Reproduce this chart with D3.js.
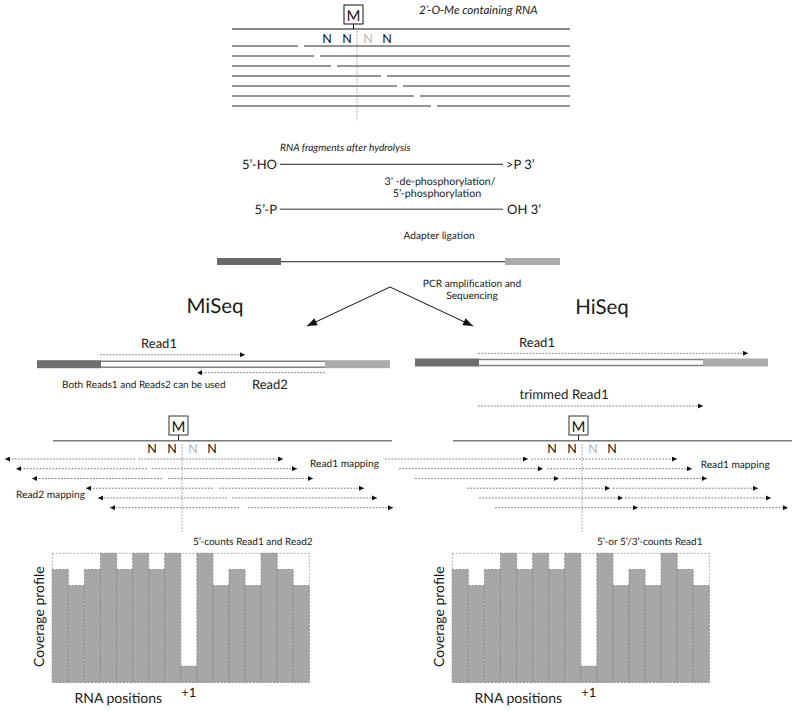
<!DOCTYPE html>
<html>
<head>
<meta charset="utf-8">
<script src="https://cdn.jsdelivr.net/npm/d3@7"></script>
<style>
  body { margin: 0; background: #fff; }
  svg { display: block; font-family: Lato, "Open Sans", sans-serif; text-rendering: geometricPrecision; }
</style>
</head>
<body>
<svg id="chart" width="796" height="711"></svg>
<script>
// ---------------- DATA ----------------
// Top RNA: nucleotide-ish positions along the RNA (0 = 5' end of drawn line)
const rnaLength = 338;
const fragmentGaps = [66, 82, 99, 149, 165, 182, 199];      // hydrolysis break points (one per fragment row)
const siteLabels = ["N", "N", "N", "N"];
const sitePositions = [95, 115, 136, 155];
const siteIsCut = [false, false, true, false];
const methylPosition = 121.5;
const cleavagePosition = 125;

// Read mapping (panel coordinates)
const miRead2From = [135, 147, 162, 213, 227, 239];
const miRead2To   = [5, 16, 32, 86, 98, 110];
const miRead1From = [138, 152, 168, 219, 232, 248];
const miRead1To   = [283, 297, 313, 364, 377, 393];
const hiReadAFrom = [-15, -1, 15, 67, 79, 95];
const hiReadATo   = [128, 143, 159, 210, 223, 238];
const hiReadBFrom = [131, 147, 162, 213, 225, 241];
const hiReadBTo   = [277, 292, 307, 358, 371, 388];

// Coverage profile (16 RNA positions, +1 at index 8)
const rnaPositions = d3.range(16);
const coverage = [7, 6, 7, 8, 7, 8, 7, 8, 1, 8, 6, 7, 6, 8, 7, 6];
const coverageMax = 8;

// ---------------- DRAW ----------------
const svg = d3.select("#chart");
svg.append("rect").attr("width", 796).attr("height", 711).attr("fill", "#fff");

const defs = svg.append("defs");
defs.append("marker").attr("id", "dhead")
  .attr("viewBox", "0 0 6 6").attr("refX", 6).attr("refY", 3)
  .attr("markerWidth", 5).attr("markerHeight", 5).attr("markerUnits", "userSpaceOnUse")
  .attr("orient", "auto-start-reverse")
  .append("path").attr("d", "M0,0L6,3L0,6Z").attr("fill", "#111");
defs.append("marker").attr("id", "bighead")
  .attr("viewBox", "0 0 10 8").attr("refX", 10).attr("refY", 4)
  .attr("markerWidth", 11).attr("markerHeight", 8).attr("markerUnits", "userSpaceOnUse")
  .attr("orient", "auto")
  .append("path").attr("d", "M0,0L10,4L0,8Z").attr("fill", "#111");

function text(g, x, y, s, opts = {}) {
  const t = g.append("text").attr("x", x).attr("y", y).text(s)
    .attr("font-size", opts.size || 10)
    .attr("fill", opts.fill || "#1a1a1a")
    .attr("text-anchor", opts.anchor || "start");
  if (opts.italic) t.attr("font-style", "italic");
  if (opts.family) t.attr("font-family", opts.family);
  return t;
}
function dotted(g, x1, y1, x2, y2, head = true) {
  const l = g.append("line").attr("x1", x1).attr("y1", y1).attr("x2", x2).attr("y2", y2)
    .attr("stroke", "#555").attr("stroke-width", 0.75).attr("stroke-dasharray", "1.8,1.4");
  if (head) l.attr("marker-end", "url(#dhead)");
  return l;
}

// ---- Top: 2'-O-Me containing RNA ----
const xTop = d3.scaleLinear().domain([0, rnaLength]).range([232, 570]);
const gTop = svg.append("g");
gTop.append("line").attr("x1", xTop(0)).attr("x2", xTop(rnaLength)).attr("y1", 29).attr("y2", 29)
  .attr("stroke", "#111").attr("stroke-width", 1.2);
gTop.append("line").attr("x1", xTop(methylPosition)).attr("x2", xTop(methylPosition))
  .attr("y1", 24).attr("y2", 29).attr("stroke", "#111");
gTop.append("rect").attr("x", xTop(methylPosition) - 9.5).attr("y", 5).attr("width", 19).attr("height", 19)
  .attr("fill", "#fff").attr("stroke", "#111");
text(gTop, xTop(methylPosition), 20.5, "M", { size: 15, anchor: "middle" });
sitePositions.forEach((p, i) => text(gTop, Math.round(xTop(p)), 43, siteLabels[i],
  { size: 12.5, anchor: "middle", fill: siteIsCut[i] ? "#b5b5b5" : "#111" }));
text(gTop, 419, 14, "2’-O-Me containing RNA", { size: 11.6, italic: true });
const yFrag = d3.scaleLinear().domain([0, 6]).range([46, 106]);
fragmentGaps.forEach((gp, i) => {
  const y = yFrag(i);
  gTop.append("line").attr("x1", xTop(0)).attr("x2", xTop(gp)).attr("y1", y).attr("y2", y)
    .attr("stroke", "#2a2a2a").attr("stroke-width", 1);
  gTop.append("line").attr("x1", xTop(gp + 6)).attr("x2", xTop(rnaLength)).attr("y1", y).attr("y2", y)
    .attr("stroke", "#2a2a2a").attr("stroke-width", 1);
});
dotted(gTop, xTop(cleavagePosition), 31, xTop(cleavagePosition), 121, false).attr("stroke", "#888");

// ---- Fragments ----
const mid = svg.append("g");
text(mid, 280, 151, "RNA fragments after hydrolysis", { size: 10.2, italic: true });
text(mid, 277, 168.5, "5’-HO", { size: 13, anchor: "end" });
mid.append("line").attr("x1", 280).attr("x2", 503).attr("y1", 164.3).attr("y2", 164.3).attr("stroke", "#222");
text(mid, 506, 168.5, ">P 3’", { size: 13 });
text(mid, 440, 185, "3’ -de-phosphorylation/", { size: 10.6, anchor: "middle" });
text(mid, 437, 196.5, "5’-phosphorylation", { size: 10.7, anchor: "middle" });
text(mid, 277, 213.5, "5’-P", { size: 13, anchor: "end" });
mid.append("line").attr("x1", 280).attr("x2", 503).attr("y1", 209.3).attr("y2", 209.3)
  .attr("stroke", "#777").attr("stroke-width", 1.4);
text(mid, 507, 213.5, "OH 3’", { size: 13 });
text(mid, 439, 239, "Adapter ligation", { size: 10.2, anchor: "middle" });
mid.append("rect").attr("x", 217).attr("y", 258).attr("width", 64).attr("height", 7).attr("fill", "#6a6a6a");
mid.append("line").attr("x1", 281).attr("x2", 505).attr("y1", 261.7).attr("y2", 261.7).attr("stroke", "#222");
mid.append("rect").attr("x", 505).attr("y", 258).attr("width", 55).attr("height", 7).attr("fill", "#ababab");

// PCR arrows
mid.append("line").attr("x1", 390).attr("y1", 287).attr("x2", 307).attr("y2", 326)
  .attr("stroke", "#111").attr("stroke-width", 1).attr("marker-end", "url(#bighead)");
mid.append("line").attr("x1", 390).attr("y1", 287).attr("x2", 473).attr("y2", 326)
  .attr("stroke", "#111").attr("stroke-width", 1).attr("marker-end", "url(#bighead)");
text(mid, 472, 287, "PCR amplification and", { size: 10.2, anchor: "middle" });
text(mid, 472, 299, "Sequencing", { size: 10.2, anchor: "middle" });
text(mid, 215, 313, "MiSeq", { size: 20.5, anchor: "middle" });
text(mid, 602, 314, "HiSeq", { size: 20.5, anchor: "middle" });

// read structures
function readBar(g, x0, x1, x2, x3, yc) {
  g.append("rect").attr("x", x0).attr("y", yc - 4).attr("width", x1 - x0).attr("height", 8).attr("fill", "#6e6e6e");
  g.append("line").attr("x1", x1).attr("x2", x2).attr("y1", yc - 3).attr("y2", yc - 3).attr("stroke", "#808080").attr("stroke-width", 1.6);
  g.append("line").attr("x1", x1).attr("x2", x2).attr("y1", yc + 3).attr("y2", yc + 3).attr("stroke", "#808080").attr("stroke-width", 1.6);
  g.append("rect").attr("x", x2).attr("y", yc - 4).attr("width", x3 - x2).attr("height", 8).attr("fill", "#ababab");
}
readBar(mid, 37, 101, 325, 390, 364.2);
readBar(mid, 415, 479, 703, 768, 362.5);
text(mid, 159, 348, "Read1", { size: 13, anchor: "middle" });
dotted(mid, 100, 354.7, 245, 354.7);
dotted(mid, 325, 372.7, 197, 372.7);
text(mid, 62, 388, "Both Reads1 and Reads2 can be used", { size: 10 });
text(mid, 252, 389, "Read2", { size: 13 });
text(mid, 537, 347, "Read1", { size: 13, anchor: "middle" });
dotted(mid, 478, 353.3, 748, 353.3);
text(mid, 564, 399, "trimmed Read1", { size: 13.3, anchor: "middle" });
dotted(mid, 478, 406, 703, 406);

// ---- Panels (mapping + coverage) ----
const xP = d3.scaleLinear().domain([0, 400]).range([0, 400]);
const xSite = d3.scaleLinear().domain([0, rnaLength]).range([57, 57 + rnaLength]);
const yRow = d3.scaleLinear().domain([0, 5]).range([459, 507.7]);
const xBar = d3.scaleBand().domain(rnaPositions).range([52.3, 309.3]).padding(0);
const yBar = d3.scaleLinear().domain([0, coverageMax]).range([682.3, 553.3]);

function panel(dx, title, reads, mappingLabels, countLabel) {
  const g = svg.append("g").attr("transform", `translate(${dx},0)`);
  // RNA line
  g.append("line").attr("x1", xSite(-4)).attr("x2", xSite(335)).attr("y1", 440.7).attr("y2", 440.7)
    .attr("stroke", "#7a7a7a").attr("stroke-width", 1.6);
  g.append("line").attr("x1", xSite(methylPosition)).attr("x2", xSite(methylPosition))
    .attr("y1", 435).attr("y2", 440).attr("stroke", "#222");
  g.append("rect").attr("x", xSite(methylPosition) - 9.5).attr("y", 416).attr("width", 19).attr("height", 19)
    .attr("fill", "#fff").attr("stroke", "#333");
  text(g, xSite(methylPosition), 431.5, "M", { size: 15, anchor: "middle" });
  sitePositions.forEach((p, i) => text(g, Math.round(xSite(p)), 453, siteLabels[i],
    { size: 12.5, anchor: "middle", fill: siteIsCut[i] ? "#b5b5b5" : "#111" }));
  dotted(g, xSite(cleavagePosition), 444, xSite(cleavagePosition), 532, false).attr("stroke", "#888");
  // reads
  reads.forEach(r => r.from.forEach((f, i) => dotted(g, xP(f), yRow(i), xP(r.to[i]), yRow(i))));
  mappingLabels.forEach(m => text(g, m.x, m.y, m.s, { size: 10.2 }));
  // coverage
  text(g, countLabel.x, 545, countLabel.s, { size: 10 });
  g.append("rect").attr("x", xBar.range()[0]).attr("y", yBar(coverageMax))
    .attr("width", xBar.range()[1] - xBar.range()[0]).attr("height", yBar(0) - yBar(coverageMax))
    .attr("fill", "none").attr("stroke", "#999").attr("stroke-width", 0.8).attr("stroke-dasharray", "2,1.5");
  g.selectAll("rect.bar").data(coverage).join("rect").attr("class", "bar")
    .attr("x", (d, i) => xBar(i)).attr("width", xBar.bandwidth())
    .attr("y", d => yBar(d)).attr("height", d => yBar(0) - yBar(d))
    .attr("fill", "#a7a7a7").attr("stroke", "#7d7d7d").attr("stroke-width", 0.8).attr("stroke-dasharray", "2,1.5");
  text(g, 0, 0, "Coverage profile", { size: 14, anchor: "middle" })
    .attr("transform", `translate(44,616.7) rotate(-90)`);
  text(g, 118.3, 702.7, "RNA positions", { size: 14, anchor: "middle" });
  text(g, xBar(8) + xBar.bandwidth() / 2, 697, "+1", { size: 13, anchor: "middle" });
  return g;
}

panel(0, "MiSeq",
  [{ from: miRead2From, to: miRead2To }, { from: miRead1From, to: miRead1To }],
  [{ x: 310, y: 467.3, s: "Read1 mapping" }, { x: 16, y: 497.7, s: "Read2 mapping" }],
  { x: 193, s: "5’-counts Read1 and Read2" });
panel(400, "HiSeq",
  [{ from: hiReadAFrom, to: hiReadATo }, { from: hiReadBFrom, to: hiReadBTo }],
  [{ x: 300.7, y: 468.3, s: "Read1 mapping" }],
  { x: 197, s: "5’-or 5’/3’-counts Read1" });
</script>
</body>
</html>
